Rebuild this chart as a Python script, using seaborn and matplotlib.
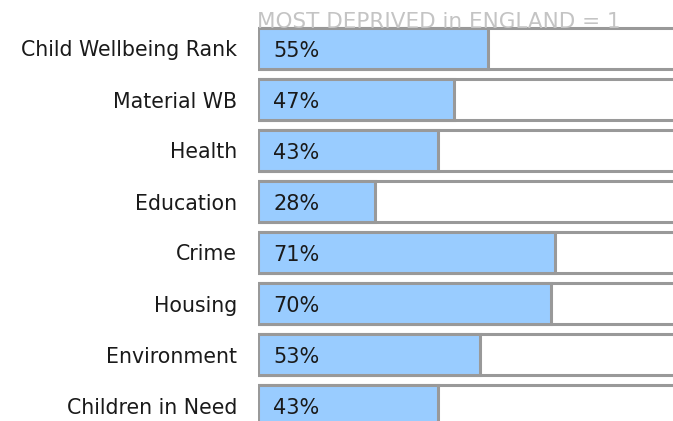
import matplotlib
matplotlib.use("Agg")
import matplotlib.pyplot as plt
import seaborn as sns
import pandas as pd

categories = ["Child Wellbeing Rank", "Material WB", "Health", "Education",
              "Crime", "Housing", "Environment", "Children in Need"]
values = [55, 47, 43, 28, 71, 70, 53, 43]
full_scale = 100
title_text = "MOST DEPRIVED in ENGLAND = 1"

sns.set_theme(style="white")
plt.rcParams['font.family'] = ['DejaVu Sans']

df = pd.DataFrame({"cat": categories, "val": values,
                   "full": [full_scale] * len(categories)})

W, H = 673, 421
fig = plt.figure(figsize=(W / 100, H / 100), dpi=100)
left_px, right_px = 258, 676
ax = fig.add_axes([left_px / W, 0, (right_px - left_px) / W, 1])
ax.patch.set_alpha(0)

border = "#999999"
lw = 2.2
sns.barplot(data=df, y="cat", x="full", orient="h", color="white",
            saturation=1, width=0.82, edgecolor=border, linewidth=lw, ax=ax, zorder=2)
sns.barplot(data=df, y="cat", x="val", orient="h", color="#99CCFF",
            saturation=1, width=0.82, edgecolor=border, linewidth=lw, ax=ax, zorder=3)

# row i center pixel = 48.5 + 51*i
pitch = 51.0
c0 = 48.5
ax.set_ylim((H - c0) / pitch, -c0 / pitch)
ax.set_xlim(0, full_scale)

for i, v in enumerate(values):
    ax.text(3.6, i + 0.04, f"{v}%", va="center", ha="left", fontsize=15,
            color="#1a1a1a", zorder=5)

ax.set_xlabel("")
ax.set_ylabel("")
ax.set_xticks([])
ax.tick_params(axis="y", length=0, pad=15, labelsize=14.8, labelcolor="#1a1a1a")
for s in ax.spines.values():
    s.set_visible(False)

fig.text(left_px / W - 0.002, 1 - 28 / H, title_text, ha="left", va="baseline",
         fontsize=15.5, color="#c4c4c4", zorder=1)

fig.savefig("out.png", dpi=100)
